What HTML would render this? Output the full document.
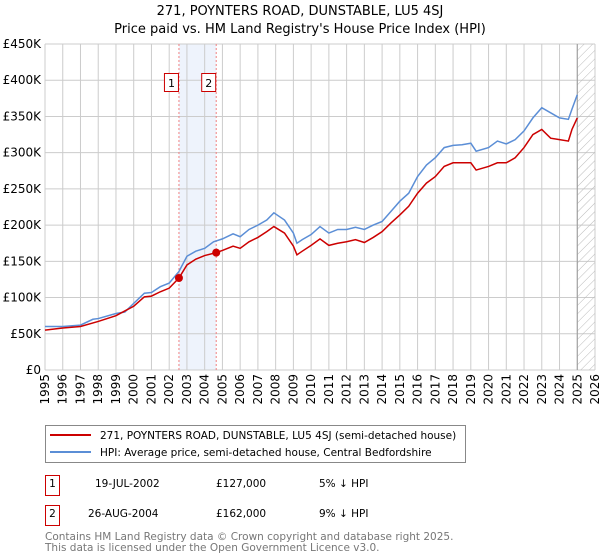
<!DOCTYPE html>
<html><head><meta charset="utf-8"><style>
body{margin:0;background:#fff;}
svg{display:block;font-family:"DejaVu Sans","Liberation Sans",sans-serif;}
</style></head><body>
<svg id="chart" width="600" height="560" viewBox="0 0 600 560" xmlns="http://www.w3.org/2000/svg">
<defs><pattern id="hatch" width="6" height="6" patternUnits="userSpaceOnUse" patternTransform="rotate(45)"><line x1="0" y1="0" x2="0" y2="6" stroke="#bbb" stroke-width="1"/></pattern></defs>
<text x="300" y="15" text-anchor="middle" font-size="13">271, POYNTERS ROAD, DUNSTABLE, LU5 4SJ</text>
<text x="300" y="33" text-anchor="middle" font-size="13">Price paid vs. HM Land Registry's House Price Index (HPI)</text>
<g id="grid"></g>
<g id="marks"></g>
<g id="axes"></g>
<rect x="45.5" y="425.5" width="420" height="37" fill="#fff" stroke="#888"/>
<line x1="50" y1="435" x2="91" y2="435" stroke="#cc0000" stroke-width="2"/>
<text x="100" y="439" font-size="10.5">271, POYNTERS ROAD, DUNSTABLE, LU5 4SJ (semi-detached house)</text>
<line x1="50" y1="452" x2="91" y2="452" stroke="#5b8ed6" stroke-width="2"/>
<text x="100" y="456" font-size="10.5">HPI: Average price, semi-detached house, Central Bedfordshire</text>
<g font-size="10.5">
<rect x="45.5" y="475.5" width="14" height="20" fill="#fff" stroke="#cc0000"/>
<text x="52.5" y="487" text-anchor="middle">1</text>
<text x="95" y="487">19-JUL-2002</text><text x="216" y="487">£127,000</text><text x="319" y="487">5% ↓ HPI</text></g>
<g font-size="10.5">
<rect x="45.5" y="505.5" width="14" height="20" fill="#fff" stroke="#cc0000"/>
<text x="52.5" y="517" text-anchor="middle">2</text>
<text x="88" y="517">26-AUG-2004</text><text x="216" y="517">£162,000</text><text x="319" y="517">9% ↓ HPI</text></g>
<text x="45" y="540" font-size="10.5" fill="#777">Contains HM Land Registry data © Crown copyright and database right 2025.</text>
<text x="45" y="551" font-size="10.5" fill="#777">This data is licensed under the Open Government Licence v3.0.</text>
</svg>
<script>
const hpiYears=[1995,1996,1997,1997.7,1998,1999,1999.5,2000,2000.6,2001,2001.5,2002,2002.55,2003,2003.5,2004,2004.5,2005,2005.6,2006,2006.5,2007,2007.5,2007.9,2008.5,2009,2009.2,2009.5,2010,2010.5,2011,2011.5,2012,2012.5,2013,2013.5,2014,2014.5,2015,2015.5,2016,2016.5,2017,2017.5,2018,2018.5,2019,2019.3,2020,2020.5,2021,2021.5,2022,2022.5,2023,2023.5,2024,2024.5,2024.7,2025];
const hpiValues=[60,60,62,70,71,78,80,92,106,107,115,120,136,157,164,168,177,181,188,184,194,200,207,217,207,189,175,180,187,198,189,194,194,197,194,200,205,219,233,244,267,283,293,307,310,311,313,302,307,316,312,318,330,348,362,355,348,346,360,380];
const priceYears=[1995,1996,1997,1998,1999,2000,2000.6,2001,2001.5,2002,2002.55,2003,2003.5,2004,2004.65,2005,2005.6,2006,2006.5,2007,2007.5,2007.9,2008.5,2009,2009.2,2009.5,2010,2010.5,2011,2011.5,2012,2012.5,2013,2013.5,2014,2014.5,2015,2015.5,2016,2016.5,2017,2017.5,2018,2018.5,2019,2019.3,2020,2020.5,2021,2021.5,2022,2022.5,2023,2023.5,2024,2024.5,2024.7,2025];
const priceValues=[55,58,60,67,75,88,101,102,108,113,127,145,153,158,162,165,171,168,177,183,191,198,189,171,159,164,172,181,172,175,177,180,176,183,191,203,214,226,244,258,267,281,286,286,286,276,281,286,286,293,307,325,332,320,318,316,332,348];
const saleYears=[2002.55,2004.65];
const saleValues=[127,162];
const saleLabels=["1","2"];
const yTicks=[0,50,100,150,200,250,300,350,400,450];
const yTickLabels=["£0","£50K","£100K","£150K","£200K","£250K","£300K","£350K","£400K","£450K"];
const xTicks=[1995,1996,1997,1998,1999,2000,2001,2002,2003,2004,2005,2006,2007,2008,2009,2010,2011,2012,2013,2014,2015,2016,2017,2018,2019,2020,2021,2022,2023,2024,2025,2026];
const dataEnd=2025.0;

const NS="http://www.w3.org/2000/svg";
const X0=45,X1=595,Y0=370,Y1=44;
const xs=y=>X0+(y-1995)/(2026-1995)*(X1-X0);
const ys=v=>Y0-v/450*(Y0-Y1);
function mk(tag,attrs,parent){const e=document.createElementNS(NS,tag);for(const k in attrs)e.setAttribute(k,attrs[k]);parent.appendChild(e);return e;}
const grid=document.getElementById('grid'),marks=document.getElementById('marks'),axes=document.getElementById('axes');

const shade=mk('rect',{x:xs(saleYears[0]),y:Y1,width:xs(saleYears[1])-xs(saleYears[0]),height:Y0-Y1,fill:'#eef3fc'},grid);


yTicks.forEach((t,i)=>{
  const l=mk('line',{x1:X0,x2:X1,y1:ys(t),y2:ys(t),stroke:'#ccc'},grid);
  
  
  const tx=mk('text',{x:X0-4,y:ys(t)+4,'text-anchor':'end','font-size':'12'},axes);
  tx.textContent=yTickLabels[i];
  
  
});
xTicks.forEach(t=>{
  const l=mk('line',{x1:xs(t),x2:xs(t),y1:Y1,y2:Y0,stroke:'#ccc'},grid);
  
  
  const tx=mk('text',{x:0,y:0,'text-anchor':'end','font-size':'12',transform:`translate(${xs(t)+4},${Y0+4}) rotate(-90)`},axes);
  tx.textContent=t;
  
  
});
const hatch=mk('rect',{x:xs(dataEnd),y:Y1,width:X1-xs(dataEnd),height:Y0-Y1,fill:'url(#hatch)'},grid);


const endLine=mk('line',{x1:xs(dataEnd),x2:xs(dataEnd),y1:Y1,y2:Y0,stroke:'#999'},grid);



saleYears.forEach((y,i)=>{
  const l=mk('line',{x1:xs(y),x2:xs(y),y1:Y1,y2:Y0,stroke:'#f08080','stroke-dasharray':'2,2'},marks);
  
  
  const r=mk('rect',{x:xs(y)-14.5,y:73.5,width:14,height:18,fill:'#fff',stroke:'#cc0000'},marks);
  
  
  const t=mk('text',{x:xs(y)-7.5,y:87,'text-anchor':'middle','font-size':'11'},marks);
  t.textContent=saleLabels[i];
  
  
});
const hp=mk('polyline',{points:hpiYears.map((y,i)=>xs(y)+','+ys(hpiValues[i])).join(' '),fill:'none',stroke:'#5b8ed6','stroke-width':'1.5'},marks);


const pp=mk('polyline',{points:priceYears.map((y,i)=>xs(y)+','+ys(priceValues[i])).join(' '),fill:'none',stroke:'#cc0000','stroke-width':'1.5'},marks);


saleYears.forEach((y,i)=>{
  const c=mk('circle',{cx:xs(y),cy:ys(saleValues[i]),r:4,fill:'#cc0000'},marks);
  
  
});
</script>
</body></html>
